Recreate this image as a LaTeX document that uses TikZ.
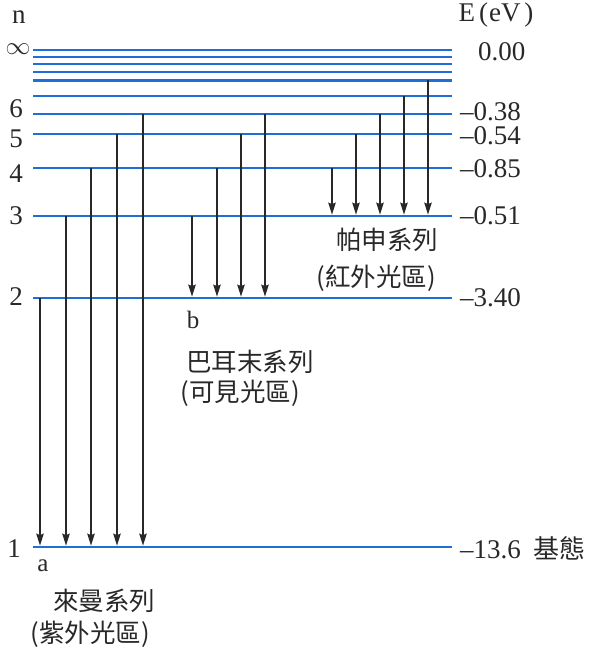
\documentclass[tikz,border=0pt]{standalone}
\usepackage{fontspec}
\setmainfont{Liberation Serif}
\newfontfamily\cjk{Noto Sans CJK TC}
\usetikzlibrary{arrows.meta}
\definecolor{lvblue}{RGB}{30,110,215}
\definecolor{ink}{RGB}{40,40,40}
\tikzset{
  level/.style={lvblue, line width=2.8pt},
  trans/.style={ink, line width=1.3pt, -{Stealth[length=12pt,width=7.5pt,inset=1.5pt]}, shorten >=1.4pt},
  num/.style={font=\fontsize{27}{30}\selectfont, text=ink, inner sep=0pt},
  nlab/.style={num, anchor=center},
  elab/.style={num, anchor=west},
  cjklab/.style={font=\cjk\fontsize{25.5}{28}\selectfont, text=ink, inner sep=0pt, anchor=center},
  letter/.style={font=\fontsize{25}{27}\selectfont, text=ink, inner sep=0pt, anchor=center}
}
\begin{document}
\begin{tikzpicture}[x=1pt,y=-1pt]
\useasboundingbox (0,0) rectangle (595,652);
% energy levels
\foreach \n/\y in {inf/50, c/57, d/64, e/72, f/80.5, g/96, 6/114, 5/134, 4/168, 3/216, 2/298, 1/547} {
  \coordinate (lv\n) at (33,\y);
  \coordinate (rv\n) at (452,\y);
  \draw[level] (lv\n) -- (rv\n);
}
% Lyman series
\foreach \x/\f in {40/2, 66/3, 91/4, 117/5, 143/6}
  \draw[trans] (\x,0 |- lv\f) -- (\x,0 |- lv1);
% Balmer series
\foreach \x/\f in {192/3, 217/4, 241/5, 265/6}
  \draw[trans] (\x,0 |- lv\f) -- (\x,0 |- lv2);
% Paschen series
\foreach \x/\f in {332/4, 356/5, 380/6, 404/g, 428/f}
  \draw[trans] (\x,0 |- lv\f) -- (\x,0 |- lv3);
% left labels
\node[nlab] (hn) at (19,17) {n};
\node[nlab] (hinf) at (18,49) {$\infty$};
\node[nlab] (n6) at (16,109) {6};
\node[nlab] (n5) at (16,139) {5};
\node[nlab] (n4) at (16,174) {4};
\node[nlab] (n3) at (16,216) {3};
\node[nlab] (n2) at (16,297) {2};
\node[nlab] (n1) at (14,549) {1};
% right labels
\node[nlab] (hE) at (496,15) {E\kern4pt(\kern1pt eV\kern4pt)};
\node[elab] (e0) at (478,52) {0.00};
\node[elab] (e6) at (460,112) {–0.38};
\node[elab] (e5) at (460,136) {–0.54};
\node[elab] (e4) at (460,169) {–0.85};
\node[elab] (e3) at (460,216) {–0.51};
\node[elab] (e2) at (460,298) {–3.40};
\node[elab] (e1) at (460,548) {–13.6\kern13pt{\cjk\fontsize{26}{28}\selectfont 基態}};
% series labels
\node[cjklab] (pa) at (387,240) {帕申系列};
\node[cjklab] (pb) at (376,278) {(紅外光區)};
\node[letter] (lb) at (193,320) {b};
\node[cjklab] (ba) at (250,362) {巴耳末系列};
\node[cjklab] (bb) at (240,393) {(可見光區)};
\node[letter] (la) at (43,566) {a};
\node[cjklab] (ly) at (104,601) {來曼系列};
\node[cjklab] (lyb) at (90,634) {(紫外光區)};
\end{tikzpicture}
\end{document}
